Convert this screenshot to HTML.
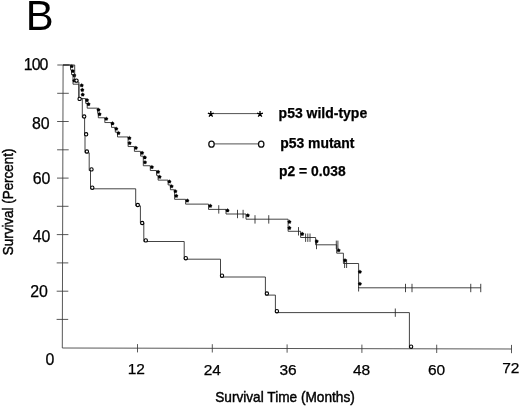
<!DOCTYPE html>
<html lang="en"><head><meta charset="utf-8"><title>Survival curve B</title>
<style>html,body{margin:0;padding:0;background:#fff}body{width:520px;height:406px;overflow:hidden}svg{display:block}text{font-family:"Liberation Sans",Arial,Helvetica,sans-serif;fill:#000;stroke:#000;stroke-width:0.25px}.ln{fill:none;stroke:#222;stroke-width:0.85}.ax{fill:none;stroke:#3a3a3a;stroke-width:0.85}.b{font-weight:bold}</style></head><body>
<svg width="520" height="406" viewBox="0 0 520 406">
<rect width="520" height="406" fill="#fff"/>
<path class="ax" d="M63.1,65 L62.3,348 L511.6,349"/>
<path class="ax" d="M57.3,65.0H68.9M57.2,93.3H68.8M57.1,121.5H68.7M57.1,149.8H68.7M57.0,178.1H68.6M56.9,206.3H68.5M56.8,234.6H68.4M56.7,262.9H68.3M56.7,291.2H68.3M56.6,319.4H68.2M137.5,344.1V352.4M212.3,344.2V352.5M287.1,344.4V352.7M361.9,344.6V352.9M436.7,344.7V353.0M511.5,344.9V353.2"/>
<path class="ln" d="M63.0,65H70.5V69.8H71.5V74.59H73V84.19H78.9V98.58H85.7V103.38H87.2V108.17H97.7V112.97H98.3V117.77H104.8V122.56H111.5V127.36H115.3V132.16H117.5V136.95H128.1V146.55H134.4V151.35H140.6V156.14H143.3V165.74H150.3V170.53H156.5V175.33H158.1V180.13H168.1V184.93H170.4V189.72H174.6V199.32H185.6V204.11H208.5V209.4H226V214H246V219.2H288.1V231.3H300.6V237.5H315.6V244.8H336.7V253.2H343.4V263.5H358.6V287.8H480.8"/>
<path class="ln" d="M218.75,205.2V213.6M237.5,209.8V218.2M243.1,209.8V218.2M255,215.2V223.6M268.75,215.2V223.6M298.5,227.1V235.5M305.6,233.5V241.9M307.8,233.5V241.9M310,233.5V241.9M316.5,240.8V249.2M336.3,240.6V249.0M337.9,240.6V249.0M344.6,259.6V268.0M346.6,259.6V268.0M405.5,283.8V292.2M412,283.8V292.2M470.75,283.8V292.2M480.75,283.8V292.2M358.6,287V291.5"/>
<path d="M71.80,64.40L72.65,65.13L73.61,65.71L73.18,66.75L72.92,67.84L71.80,67.75L70.68,67.84L70.42,66.75L69.99,65.71L70.95,65.13ZM72.80,69.20L73.65,69.93L74.61,70.51L74.18,71.55L73.92,72.64L72.80,72.55L71.68,72.64L71.42,71.55L70.99,70.51L71.95,69.93ZM74.30,73.50L75.15,74.23L76.11,74.81L75.68,75.85L75.42,76.94L74.30,76.85L73.18,76.94L72.92,75.85L72.49,74.81L73.45,74.23ZM74.30,78.70L75.15,79.43L76.11,80.01L75.68,81.05L75.42,82.14L74.30,82.05L73.18,82.14L72.92,81.05L72.49,80.01L73.45,79.43ZM81.70,83.50L82.55,84.23L83.51,84.81L83.08,85.85L82.82,86.94L81.70,86.85L80.58,86.94L80.32,85.85L79.89,84.81L80.85,84.23ZM82.30,88.10L83.15,88.83L84.11,89.41L83.68,90.45L83.42,91.54L82.30,91.45L81.18,91.54L80.92,90.45L80.49,89.41L81.45,88.83ZM82.70,92.70L83.55,93.43L84.51,94.01L84.08,95.05L83.82,96.14L82.70,96.05L81.58,96.14L81.32,95.05L80.89,94.01L81.85,93.43ZM87.00,98.30L87.85,99.03L88.81,99.61L88.38,100.65L88.12,101.74L87.00,101.65L85.88,101.74L85.62,100.65L85.19,99.61L86.15,99.03ZM88.50,102.30L89.35,103.03L90.31,103.61L89.88,104.65L89.62,105.74L88.50,105.65L87.38,105.74L87.12,104.65L86.69,103.61L87.65,103.03ZM98.50,107.90L99.35,108.63L100.31,109.21L99.88,110.25L99.62,111.34L98.50,111.25L97.38,111.34L97.12,110.25L96.69,109.21L97.65,108.63ZM99.50,112.30L100.35,113.03L101.31,113.61L100.88,114.65L100.62,115.74L99.50,115.65L98.38,115.74L98.12,114.65L97.69,113.61L98.65,113.03ZM106.30,116.90L107.15,117.63L108.11,118.21L107.68,119.25L107.42,120.34L106.30,120.25L105.18,120.34L104.92,119.25L104.49,118.21L105.45,117.63ZM112.50,121.60L113.35,122.33L114.31,122.91L113.88,123.95L113.62,125.04L112.50,124.95L111.38,125.04L111.12,123.95L110.69,122.91L111.65,122.33ZM116.30,126.90L117.15,127.63L118.11,128.21L117.68,129.25L117.42,130.34L116.30,130.25L115.18,130.34L114.92,129.25L114.49,128.21L115.45,127.63ZM118.50,131.20L119.35,131.93L120.31,132.51L119.88,133.55L119.62,134.64L118.50,134.55L117.38,134.64L117.12,133.55L116.69,132.51L117.65,131.93ZM129.40,136.20L130.25,136.93L131.21,137.51L130.78,138.55L130.52,139.64L129.40,139.55L128.28,139.64L128.02,138.55L127.59,137.51L128.55,136.93ZM129.60,141.20L130.45,141.93L131.41,142.51L130.98,143.55L130.72,144.64L129.60,144.55L128.48,144.64L128.22,143.55L127.79,142.51L128.75,141.93ZM135.90,146.00L136.75,146.73L137.71,147.31L137.28,148.35L137.02,149.44L135.90,149.35L134.78,149.44L134.52,148.35L134.09,147.31L135.05,146.73ZM142.10,151.00L142.95,151.73L143.91,152.31L143.48,153.35L143.22,154.44L142.10,154.35L140.98,154.44L140.72,153.35L140.29,152.31L141.25,151.73ZM144.80,155.60L145.65,156.33L146.61,156.91L146.18,157.95L145.92,159.04L144.80,158.95L143.68,159.04L143.42,157.95L142.99,156.91L143.95,156.33ZM145.00,160.40L145.85,161.13L146.81,161.71L146.38,162.75L146.12,163.84L145.00,163.75L143.88,163.84L143.62,162.75L143.19,161.71L144.15,161.13ZM151.90,165.20L152.75,165.93L153.71,166.51L153.28,167.55L153.02,168.64L151.90,168.55L150.78,168.64L150.52,167.55L150.09,166.51L151.05,165.93ZM158.10,170.00L158.95,170.73L159.91,171.31L159.48,172.35L159.22,173.44L158.10,173.35L156.98,173.44L156.72,172.35L156.29,171.31L157.25,170.73ZM159.60,175.00L160.45,175.73L161.41,176.31L160.98,177.35L160.72,178.44L159.60,178.35L158.48,178.44L158.22,177.35L157.79,176.31L158.75,175.73ZM169.40,179.70L170.25,180.43L171.21,181.01L170.78,182.05L170.52,183.14L169.40,183.05L168.28,183.14L168.02,182.05L167.59,181.01L168.55,180.43ZM171.60,184.40L172.45,185.13L173.41,185.71L172.98,186.75L172.72,187.84L171.60,187.75L170.48,187.84L170.22,186.75L169.79,185.71L170.75,185.13ZM175.40,189.40L176.25,190.13L177.21,190.71L176.78,191.75L176.52,192.84L175.40,192.75L174.28,192.84L174.02,191.75L173.59,190.71L174.55,190.13ZM176.30,194.00L177.15,194.73L178.11,195.31L177.68,196.35L177.42,197.44L176.30,197.35L175.18,197.44L174.92,196.35L174.49,195.31L175.45,194.73ZM187.30,198.70L188.15,199.43L189.11,200.01L188.68,201.05L188.42,202.14L187.30,202.05L186.18,202.14L185.92,201.05L185.49,200.01L186.45,199.43ZM210.30,204.00L211.15,204.73L212.11,205.31L211.68,206.35L211.42,207.44L210.30,207.35L209.18,207.44L208.92,206.35L208.49,205.31L209.45,204.73ZM227.50,208.60L228.35,209.33L229.31,209.91L228.88,210.95L228.62,212.04L227.50,211.95L226.38,212.04L226.12,210.95L225.69,209.91L226.65,209.33ZM247.80,213.50L248.65,214.23L249.61,214.81L249.18,215.85L248.92,216.94L247.80,216.85L246.68,216.94L246.42,215.85L245.99,214.81L246.95,214.23ZM289.40,220.00L290.25,220.73L291.21,221.31L290.78,222.35L290.52,223.44L289.40,223.35L288.28,223.44L288.02,222.35L287.59,221.31L288.55,220.73ZM289.40,226.10L290.25,226.83L291.21,227.41L290.78,228.45L290.52,229.54L289.40,229.45L288.28,229.54L288.02,228.45L287.59,227.41L288.55,226.83ZM302.25,232.10L303.10,232.83L304.06,233.41L303.63,234.45L303.37,235.54L302.25,235.45L301.13,235.54L300.87,234.45L300.44,233.41L301.40,232.83ZM316.70,239.40L317.55,240.13L318.51,240.71L318.08,241.75L317.82,242.84L316.70,242.75L315.58,242.84L315.32,241.75L314.89,240.71L315.85,240.13ZM338.60,248.40L339.45,249.13L340.41,249.71L339.98,250.75L339.72,251.84L338.60,251.75L337.48,251.84L337.22,250.75L336.79,249.71L337.75,249.13ZM345.00,258.40L345.85,259.13L346.81,259.71L346.38,260.75L346.12,261.84L345.00,261.75L343.88,261.84L343.62,260.75L343.19,259.71L344.15,259.13ZM359.90,269.90L360.75,270.63L361.71,271.21L361.28,272.25L361.02,273.34L359.90,273.25L358.78,273.34L358.52,272.25L358.09,271.21L359.05,270.63ZM359.90,281.90L360.75,282.63L361.71,283.21L361.28,284.25L361.02,285.34L359.90,285.25L358.78,285.34L358.52,284.25L358.09,283.21L359.05,282.63Z" fill="#000" stroke="#000" stroke-width="0.3"/>
<path class="ln" d="M63.0,65H74.7V82H78.9V98.6H82.3V117.4H84.6V135.1H85V152.8H89.2V170.5H90.5V188.8H135.7V205.8H140.4V223H143.8V241.5H184.2V259.2H220.5V277H265.4V295.1H275.4V312.6H409.4V348"/>
<path class="ln" d="M395.3,308.5V316.8"/>
<circle cx="76.5" cy="80.6" r="1.65" fill="#fff" stroke="#000" stroke-width="1.1"/>
<circle cx="79.6" cy="98.9" r="1.65" fill="#fff" stroke="#000" stroke-width="1.1"/>
<circle cx="84.2" cy="116.5" r="1.65" fill="#fff" stroke="#000" stroke-width="1.1"/>
<circle cx="86.15" cy="134.3" r="1.65" fill="#fff" stroke="#000" stroke-width="1.1"/>
<circle cx="86.9" cy="151.5" r="1.65" fill="#fff" stroke="#000" stroke-width="1.1"/>
<circle cx="91.5" cy="169.4" r="1.65" fill="#fff" stroke="#000" stroke-width="1.1"/>
<circle cx="92.3" cy="187.7" r="1.65" fill="#fff" stroke="#000" stroke-width="1.1"/>
<circle cx="137.8" cy="205" r="1.65" fill="#fff" stroke="#000" stroke-width="1.1"/>
<circle cx="142.2" cy="223" r="1.65" fill="#fff" stroke="#000" stroke-width="1.1"/>
<circle cx="145.8" cy="240.4" r="1.65" fill="#fff" stroke="#000" stroke-width="1.1"/>
<circle cx="185.8" cy="258.2" r="1.65" fill="#fff" stroke="#000" stroke-width="1.1"/>
<circle cx="222" cy="275.7" r="1.65" fill="#fff" stroke="#000" stroke-width="1.1"/>
<circle cx="266.9" cy="293.5" r="1.65" fill="#fff" stroke="#000" stroke-width="1.1"/>
<circle cx="276.9" cy="311.2" r="1.65" fill="#fff" stroke="#000" stroke-width="1.1"/>
<circle cx="411.1" cy="346.7" r="1.65" fill="#fff" stroke="#000" stroke-width="1.1"/>
<path d="M211,113.6H260M214,143.9H259" fill="none" stroke="#333" stroke-width="0.85"/>
<path d="M210.8,114.2L210.80,111.10M210.8,114.2L213.75,113.24M210.8,114.2L212.62,116.71M210.8,114.2L208.98,116.71M210.8,114.2L207.85,113.24M260,114.2L260.00,111.10M260,114.2L262.95,113.24M260,114.2L261.82,116.71M260,114.2L258.18,116.71M260,114.2L257.05,113.24" fill="none" stroke="#000" stroke-width="1.3"/>
<ellipse cx="211.5" cy="144.2" rx="2.7" ry="3" fill="#fff" stroke="#111" stroke-width="1.3"/>
<ellipse cx="261.2" cy="144.2" rx="2.7" ry="3" fill="#fff" stroke="#111" stroke-width="1.3"/>
<text x="25.7" y="30.1" font-size="43" textLength="27.9" lengthAdjust="spacingAndGlyphs" style="stroke-width:0">B</text>
<text x="48.4" y="69.8" font-size="15.9" text-anchor="end" textLength="24.6" lengthAdjust="spacing">100</text>
<text x="49.6" y="128.8" font-size="15.9" text-anchor="end">80</text>
<text x="50.4" y="184.3" font-size="15.9" text-anchor="end">60</text>
<text x="50.4" y="241.8" font-size="15.9" text-anchor="end">40</text>
<text x="47.9" y="296.8" font-size="15.9" text-anchor="end">20</text>
<text x="54.4" y="364.5" font-size="15.9" text-anchor="end">0</text>
<text x="136.3" y="374.1" font-size="15.5" text-anchor="middle">12</text>
<text x="212.3" y="375.35" font-size="15.5" text-anchor="middle">24</text>
<text x="288.0" y="375.35" font-size="15.5" text-anchor="middle">36</text>
<text x="361.6" y="375.35" font-size="15.5" text-anchor="middle">48</text>
<text x="436.5" y="374.90000000000003" font-size="15.5" text-anchor="middle">60</text>
<text x="510.8" y="372.8" font-size="15.5" text-anchor="middle">72</text>
<text x="215.2" y="401.7" font-size="15" style="stroke-width:0.45px" textLength="139.6" lengthAdjust="spacingAndGlyphs">Survival Time (Months)</text>
<text transform="translate(13.4,255.2) rotate(-90)" font-size="15" style="stroke-width:0.45px" textLength="106.6" lengthAdjust="spacingAndGlyphs">Survival (Percent)</text>
<text class="b" x="278.6" y="117.6" font-size="14" textLength="88.6" lengthAdjust="spacingAndGlyphs">p53 wild-type</text>
<text class="b" x="280.2" y="147.6" font-size="14" textLength="74.3" lengthAdjust="spacingAndGlyphs">p53 mutant</text>
<text class="b" x="279.1" y="175.7" font-size="14" textLength="66.6" lengthAdjust="spacingAndGlyphs">p2 = 0.038</text>
</svg></body></html>
